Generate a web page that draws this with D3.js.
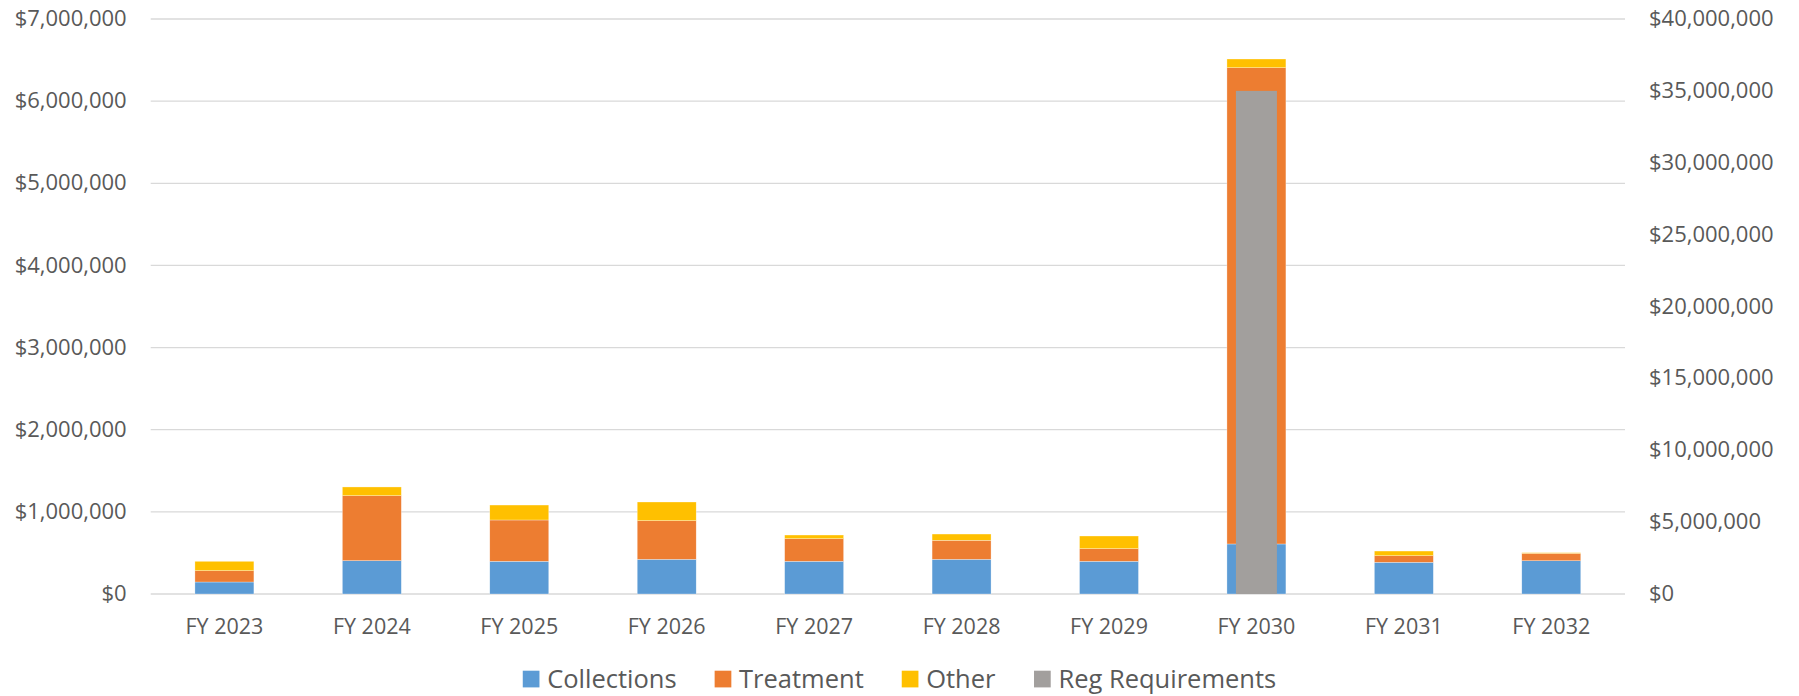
<!DOCTYPE html>
<html>
<head>
<meta charset="utf-8">
<script src="https://cdn.jsdelivr.net/npm/d3@7"></script>
<style>
  html, body { margin: 0; padding: 0; background: #fff; }
  svg { display: block; font-family: "Open Sans", "Noto Sans", sans-serif; }
</style>
</head>
<body>
<svg id="chart" width="1799" height="696"></svg>
<script>
// Capital spending by fiscal year
const years = ["FY 2023", "FY 2024", "FY 2025", "FY 2026", "FY 2027",
               "FY 2028", "FY 2029", "FY 2030", "FY 2031", "FY 2032"];
const collections = [146000, 406000, 398000, 422000, 398000, 422000, 398000, 609000, 386000, 405000];
const treatment   = [138000, 791000, 503000, 471000, 275000, 231000, 154000, 5798000, 80000, 90000];
const other       = [114000, 106000, 182000, 227000, 45000, 77000, 154000, 106000, 57000, 8000];
// Plotted against the secondary (right) axis
const regRequirements = [0, 0, 0, 0, 0, 0, 0, 35000000, 0, 0];

const leftTicks  = [0, 1e6, 2e6, 3e6, 4e6, 5e6, 6e6, 7e6];
const rightTicks = [0, 5e6, 10e6, 15e6, 20e6, 25e6, 30e6, 35e6, 40e6];

const seriesNames  = ["Collections", "Treatment", "Other", "Reg Requirements"];
const seriesColors = ["#5B9BD5", "#ED7D31", "#FFC000", "#A29F9D"];

const W = 1799, H = 696;
const plot = { left: 150.7, right: 1625, top: 19, bottom: 594 };
const textColor = "#595959";
const fmt = d => "$" + d3.format(",")(d);

const svg = d3.select("#chart");

const x = d3.scaleBand().domain(years)
  .range([plot.left, plot.right]).paddingInner(0.6).paddingOuter(0.3);
const x2 = d3.scaleBand().domain(years)
  .range([plot.left, plot.right]).paddingInner(0.722).paddingOuter(0.361);
const yL = d3.scaleLinear().domain([0, 7e6]).range([plot.bottom, plot.top]);
const yR = d3.scaleLinear().domain([0, 40e6]).range([plot.bottom, plot.top]);

// horizontal gridlines from the primary axis
svg.append("g").selectAll("line").data(leftTicks).join("line")
  .attr("x1", plot.left).attr("x2", plot.right)
  .attr("y1", d => yL(d)).attr("y2", d => yL(d))
  .attr("stroke", "#D9D9D9").attr("stroke-width", 1.3);

// stacked primary series
const rows = years.map((yr, i) => ({
  year: yr, Collections: collections[i], Treatment: treatment[i], Other: other[i]
}));
const stack = d3.stack().keys(seriesNames.slice(0, 3))(rows);

svg.append("g").selectAll("g").data(stack).join("g")
  .attr("fill", (d, i) => seriesColors[i])
  .selectAll("rect").data(d => d).join("rect")
  .attr("x", d => x(d.data.year))
  .attr("width", x.bandwidth())
  .attr("y", d => yL(d[1]))
  .attr("height", d => yL(d[0]) - yL(d[1]))
  .attr("stroke", "#fff").attr("stroke-width", 0.5).attr("stroke-opacity", 0.6);

// secondary series overlaid
svg.append("g").selectAll("rect")
  .data(years.map((yr, i) => ({ year: yr, v: regRequirements[i] })).filter(d => d.v > 0))
  .join("rect")
  .attr("x", d => x2(d.year))
  .attr("width", x2.bandwidth())
  .attr("y", d => yR(d.v))
  .attr("height", d => yR(0) - yR(d.v))
  .attr("fill", seriesColors[3]);

// left axis
const axL = svg.append("g")
  .attr("transform", `translate(${plot.left - 24},0)`)
  .call(d3.axisLeft(yL).tickValues(leftTicks).tickFormat(fmt).tickSize(0).tickPadding(0));
axL.select(".domain").remove();
axL.selectAll("text").attr("fill", textColor).attr("font-size", 22)
  .attr("font-family", "'Open Sans', sans-serif").attr("dy", "0.3em");

// right axis
const axR = svg.append("g")
  .attr("transform", `translate(${plot.right + 24},0)`)
  .call(d3.axisRight(yR).tickValues(rightTicks).tickFormat(fmt).tickSize(0).tickPadding(0));
axR.select(".domain").remove();
axR.selectAll("text").attr("fill", textColor).attr("font-size", 22)
  .attr("font-family", "'Open Sans', sans-serif").attr("dy", "0.3em");

// category axis
const axB = svg.append("g")
  .attr("transform", `translate(0,${plot.bottom})`)
  .call(d3.axisBottom(x).tickSize(0).tickPadding(0));
axB.select(".domain").remove();
axB.selectAll("text").attr("fill", textColor).attr("font-size", 21.5)
  .attr("font-family", "'Open Sans', sans-serif")
  .attr("dy", null).attr("y", 40.3);

// legend, centered under the chart
const legend = svg.append("g");
const items = legend.selectAll("g").data(seriesNames).join("g");
items.append("rect").attr("width", 16.7).attr("height", 16.7)
  .attr("y", 670.7).attr("fill", (d, i) => seriesColors[i]);
items.append("text").text(d => d)
  .attr("x", 24.4).attr("y", 688)
  .attr("fill", textColor).attr("font-size", 25.5);
let cursor = 0;
items.each(function () {
  const g = d3.select(this);
  g.attr("transform", `translate(${cursor},0)`);
  cursor += this.getBBox().width + 38;
});
const total = cursor - 38;
legend.attr("transform", `translate(${(W - total) / 2},0)`);
</script>
</body>
</html>
